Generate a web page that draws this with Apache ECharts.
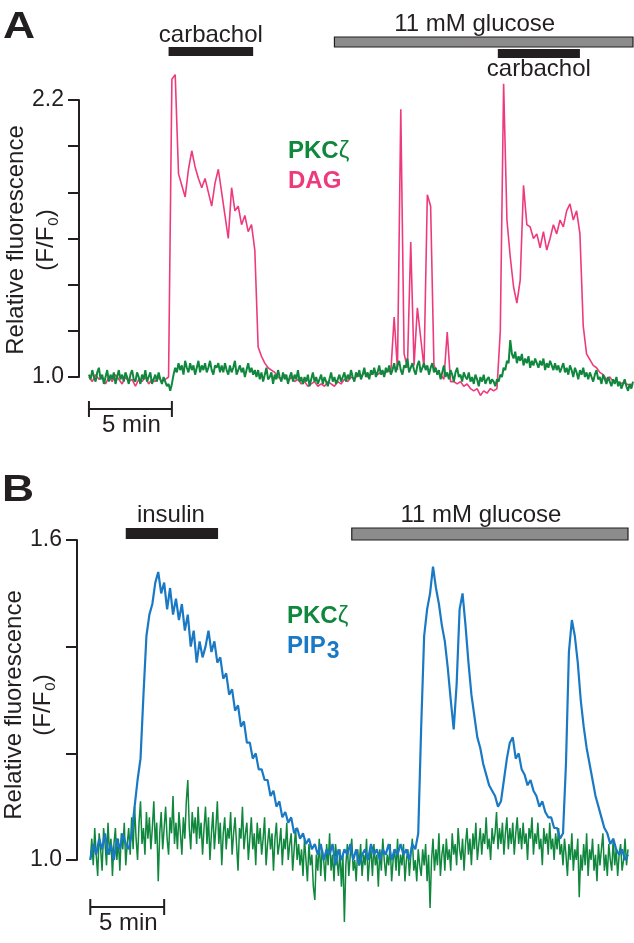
<!DOCTYPE html>
<html><head><meta charset="utf-8">
<script src="https://cdn.jsdelivr.net/npm/echarts@6/dist/echarts.min.js"></script>
<style>html,body{margin:0;padding:0;background:#fff}#c{width:634px;height:943px}</style>
</head><body><div id="c"></div>
<script>
const FONT = '"Liberation Sans", Arial, Helvetica, sans-serif';
const INK = '#231f20';
const PINK = '#ee3a7d', GREEN = '#0f873d', BLUE = '#1a79c4', GREY = '#8c8c8c';

// sampling interval (minutes per point)
const timeStepDagA = 0.2;
const timeStepPkcA = 0.1;
const timeStepPipB = 0.2;
const timeStepPkcB = 0.1;

// Panel A: DAG (pink), F/F0
const dagA = [1.00,0.98,1.01,0.99,1.00,0.97,1.00,0.98,1.01,0.99,0.97,1.00,0.98,0.99,0.96,0.99,0.98,1.00,0.97,0.99,0.98,1.00,0.98,0.99,
1.00,
2.29,2.31,1.88,1.83,1.78,1.90,1.98,1.91,1.86,1.82,1.86,1.80,1.74,1.84,1.90,1.80,1.70,1.60,1.82,1.72,1.74,1.66,1.70,1.63,1.66,1.55,1.13,1.09,1.06,1.04,1.03,1.02,
1.00,0.99,1.01,0.98,1.00,0.98,0.99,0.97,0.98,0.96,0.97,0.98,0.96,0.97,0.96,0.98,0.97,0.96,0.98,0.97,0.99,0.98,1.00,0.99,1.01,1.00,1.02,1.00,1.01,1.03,1.01,1.02,1.01,1.03,1.02,
1.26,1.03,2.16,1.10,1.04,1.585,1.05,1.30,1.17,1.04,1.79,1.74,1.05,1.02,1.01,0.99,1.195,0.98,
0.98,0.97,0.98,0.96,0.97,0.95,0.94,0.95,0.92,0.94,0.93,0.95,0.94,0.95,
1.20,2.27,1.68,1.52,1.39,1.32,1.42,1.83,1.66,1.65,1.60,1.62,1.56,1.63,1.55,1.60,1.66,1.62,1.68,1.65,1.72,1.75,1.68,1.72,1.62,1.22,1.10,1.075,1.05,1.04,1.02,1.01,0.99,1.00,0.98,0.985,0.97,0.975,0.97,0.965,0.97];

// Panel A: PKCzeta (green), F/F0
const pkcA = [1.01,0.99,1.03,1.00,0.98,1.02,1.04,0.99,1.01,0.97,
1.00,1.03,0.98,1.01,0.99,1.02,0.97,1.00,1.03,0.99,
1.01,0.98,1.02,1.00,0.97,1.01,1.03,0.99,0.98,1.02,
1.00,0.97,1.01,0.99,1.03,0.98,1.00,1.02,0.97,0.99,
1.01,0.98,1.02,0.99,0.97,1.00,0.98,0.96,0.97,
0.94,
0.97,1.01,1.04,1.02,1.06,1.03,1.05,1.01,1.07,1.04,
1.02,1.06,1.03,1.05,1.01,1.04,1.07,1.02,1.05,1.03,
1.06,1.02,1.04,1.07,1.03,1.01,1.05,1.04,1.06,1.02,
1.05,
1.02,1.06,1.03,1.01,1.05,1.02,1.04,1.07,1.01,1.03,
1.05,1.02,1.04,1.00,1.03,1.06,1.02,1.04,1.01,1.03,
1.00,1.03,0.99,1.02,0.98,1.01,1.04,0.99,1.00,1.02,
0.97,1.01,0.99,1.03,1.00,0.98,1.02,0.99,1.01,0.97,
1.00,1.02,0.98,1.01,0.99,1.03,0.98,1.00,
0.97,1.00,0.98,1.01,0.96,0.99,1.02,0.98,1.00,0.97,
0.99,1.01,0.97,1.00,0.98,0.96,0.99,1.02,0.98,1.00,
0.97,0.99,1.01,0.98,
1.00,1.02,0.98,1.01,0.99,1.03,1.00,0.98,1.02,1.00,
1.03,0.99,1.01,1.04,1.00,1.02,0.99,1.03,1.01,1.04,
1.00,1.02,1.05,1.01,1.03,1.00,1.04,1.02,1.05,1.01,
1.03,1.06,1.02,1.05,1.07,1.03,1.01,1.05,1.04,1.08,
1.02,1.04,1.06,1.03,1.01,1.05,1.07,1.02,1.04,1.06,
1.03,1.05,1.01,1.04,1.06,1.02,
1.04,1.01,1.03,0.99,1.02,1.05,1.00,1.02,0.99,1.03,
1.01,0.98,1.02,1.04,1.00,1.01,0.98,1.02,1.00,0.99,
1.02,0.98,
1.00,0.97,1.01,0.99,0.96,1.00,0.98,1.01,0.97,0.99,
1.00,0.97,0.99,0.98,0.96,0.99,
0.98,1.01,1.00,1.04,1.03,1.07,1.06,1.16,1.10,1.08,
1.11,1.06,1.09,1.07,1.10,1.05,1.08,1.06,1.09,1.04,
1.07,1.05,1.08,1.06,1.04,1.07,1.05,1.08,1.03,1.06,
1.04,1.07,1.05,1.03,
1.06,1.03,1.05,1.02,1.04,1.06,1.02,1.04,1.01,1.05,
1.03,1.00,1.04,1.02,0.99,1.03,1.01,1.04,1.00,1.02,
0.99,1.02,1.00,0.98,1.01,1.03,0.99,1.00,0.97,1.01,
0.99,0.97,1.00,0.98,0.96,0.99,0.97,1.00,0.96,0.98,
0.95,0.97,0.99,0.96,0.94,0.97,0.95,0.98];

// Panel B: PIP3 (blue), F/F0
const pip3B = [1.00,1.03,1.01,1.04,1.02,1.05,1.01,1.03,1.00,1.04,1.02,1.05,1.03,1.02,
1.05,1.10,1.15,1.19,1.31,1.42,1.46,1.48,1.52,1.54,1.50,1.52,1.47,1.51,1.46,1.49,1.45,1.48,1.43,1.46,1.40,1.43,1.37,1.41,1.38,1.40,1.43,1.39,1.41,1.37,1.38,1.34,1.35,1.31,1.32,1.28,1.29,1.25,1.26,1.22,1.22,1.19,1.20,1.17,1.17,1.15,1.15,1.12,1.13,1.10,1.11,1.08,1.09,1.07,1.08,1.05,1.06,1.04,1.05,1.03,1.04,1.02,1.03,
1.01,1.03,1.00,1.02,1.01,1.03,0.99,1.02,1.00,1.02,1.01,1.03,1.00,1.02,0.99,1.01,1.02,1.00,1.03,1.01,1.02,1.00,1.02,1.01,1.03,1.00,1.02,1.01,1.03,1.01,1.02,1.00,1.03,1.02,
1.05,1.25,1.42,1.47,1.50,1.55,1.51,1.48,1.44,1.41,1.36,1.30,1.245,1.33,1.47,1.50,1.44,1.37,1.31,1.27,1.23,1.21,1.18,1.16,1.14,1.13,1.12,1.10,1.11,1.15,1.19,1.22,1.23,1.19,1.20,1.17,1.16,1.14,1.15,1.13,1.12,1.10,1.11,1.09,1.08,1.08,1.06,1.06,1.04,1.05,1.18,1.39,1.45,1.42,1.37,1.30,1.25,1.21,1.18,1.15,1.12,1.10,1.08,1.06,1.05,1.03,1.04,1.02,1.01,1.02,1.00,1.01];

// Panel B: PKCzeta (green), F/F0
const pkcB = [1.00,1.04,0.99,1.06,1.01,0.97,1.05,1.02,0.98,1.06,
1.03,0.99,1.07,1.01,1.04,0.97,1.03,1.06,1.00,1.04,
0.98,1.05,1.02,1.07,0.99,1.03,1.06,1.01,
1.08,1.02,1.10,1.04,1.00,1.07,1.11,1.03,1.06,1.01,
1.09,1.04,1.08,1.02,1.06,1.11,1.03,1.07,0.96,1.05,
1.09,1.02,1.06,1.10,1.04,1.01,1.08,1.05,1.12,1.03,
1.07,1.02,1.09,1.05,1.01,1.08,1.04,1.11,1.15,1.06,
1.02,1.09,1.05,1.08,1.03,1.10,1.04,
1.07,1.01,1.06,1.10,1.03,1.08,1.00,1.05,1.09,1.02,
1.06,1.11,1.03,1.07,0.99,1.05,1.08,1.02,1.06,1.04,
1.09,1.01,1.05,1.08,1.03,0.98,1.06,1.04,1.10,1.02,
1.05,1.07,1.00,1.04,1.08,1.02,1.05,0.99,1.07,1.03,
1.06,1.01,1.04,1.08,0.99,1.03,1.06,1.02,1.05,0.98,
1.04,1.07,1.01,1.03,1.06,0.99,1.04,1.02,1.07,1.00,
1.03,1.05,0.98,1.02,1.06,1.00,1.03,0.99,
1.02,0.97,1.04,1.00,0.96,1.03,0.99,1.01,0.95,0.925,
1.01,0.98,1.04,0.97,1.02,1.00,0.96,1.03,0.99,1.05,
0.98,1.01,0.96,1.03,1.00,0.97,1.02,0.95,1.01,0.884,
0.99,1.03,0.97,1.01,1.04,0.98,1.00,0.96,1.02,0.99,
1.03,0.97,1.01,0.99,1.04,0.96,1.00,1.02,0.97,1.03,
0.99,1.01,0.95,1.02,0.98,1.04,1.00,0.97,1.01,0.99,
1.03,0.96,1.00,1.02,0.98,1.04,0.97,1.01,0.99,1.03,
0.96,1.00,1.02,0.97,1.01,1.04,0.98,1.00,0.96,1.02,
0.99,
0.97,1.02,0.99,1.03,0.96,1.01,0.91,1.00,1.04,0.98,
1.02,0.99,1.05,0.97,1.01,1.03,0.98,1.04,1.00,1.02,
0.98,1.05,1.01,1.03,0.99,1.06,1.02,1.00,1.04,0.98,
1.03,1.06,1.01,1.04,0.99,1.05,1.02,1.07,1.00,1.03,
1.06,1.01,1.05,1.03,1.08,1.02,1.04,1.00,1.06,1.03,
1.05,1.09,1.02,1.06,1.03,1.07,1.01,1.05,1.08,1.02,
1.06,1.03,1.07,1.01,1.05,1.08,1.03,1.06,
1.02,1.07,1.03,1.05,1.00,1.06,1.04,1.08,1.01,1.05,
1.03,1.07,1.02,1.04,0.99,1.06,1.03,1.05,1.01,1.07,
1.02,1.04,1.00,1.05,1.02,1.06,1.01,
1.03,0.99,1.04,1.01,0.97,1.03,1.00,1.05,0.98,1.02,
1.00,1.04,0.93,1.01,0.98,1.03,0.99,1.05,0.97,1.02,
1.00,1.04,0.98,1.01,0.96,1.03,0.99,1.02,1.05,0.98,
1.01,0.97,1.03,1.00,0.98,1.04,0.99,1.02,0.97,1.01,
1.03,0.98,1.00,1.04,0.99,1.02];

// labelled y ticks
const yTicksA = ['1.0', '2.2'];
const yTicksB = ['1.0', '1.6'];

// stimulus periods (minutes)
const carbacholA1 = [4.8, 9.9];
const glucoseA = [14.8, 32.8];
const carbacholA2 = [24.65, 29.6];
const insulinB = [2.4, 8.65];
const glucoseB = [17.7, 36.4];
const scaleBarMin = [0, 5];

const toXY = (arr, dt) => arr.map((v, i) => [+(i * dt).toFixed(3), v]);

const chart = echarts.init(document.getElementById('c'), null, {renderer: 'canvas'});

function yAxisDef(grid, min, max, labels) {
  return {
    gridIndex: grid, type: 'value', min: min, max: max, interval: 0.2,
    axisLine: {show: true, onZero: false, lineStyle: {color: INK, width: 2}},
    axisTick: {show: true, length: 11, lineStyle: {color: INK, width: 2}},
    splitLine: {show: false},
    axisLabel: {margin: 15, fontSize: 23, color: INK, fontFamily: FONT,
      formatter: v => labels.includes(v.toFixed(1)) ? v.toFixed(1) : ''}
  };
}

function lineSeries(xi, data, color, width, z) {
  return {type: 'line', xAxisIndex: xi, yAxisIndex: xi, data: data, symbol: 'none',
    clip: false, z: z, lineStyle: {color: color, width: width}, itemStyle: {color: color},
    animation: false, silent: true};
}

chart.setOption({
  animation: false,
  backgroundColor: '#fff',
  grid: [{left: 79, right: 1, top: 100, bottom: 566}, {left: 77, right: 6, top: 540, bottom: 83}],
  xAxis: [
    {gridIndex: 0, type: 'value', min: -0.6, max: 32.8, show: false},
    {gridIndex: 1, type: 'value', min: -0.9, max: 36.4, show: false}
  ],
  yAxis: [yAxisDef(0, 1.0, 2.2, yTicksA), yAxisDef(1, 1.0, 1.6, yTicksB)],
  series: [
    lineSeries(0, toXY(dagA, timeStepDagA), PINK, 1.6, 2),
    lineSeries(0, toXY(pkcA, timeStepPkcA), GREEN, 2, 3),
    lineSeries(1, toXY(pkcB, timeStepPkcB), GREEN, 1.5, 2),
    lineSeries(1, toXY(pip3B, timeStepPipB), BLUE, 2.2, 3)
  ]
});

const px = (ax, t) => chart.convertToPixel({xAxisIndex: ax}, t);

function text(x, y, str, opt) {
  opt = opt || {};
  return {type: 'text', x: x, y: y, rotation: opt.rotation || 0, scaleX: opt.scaleX || 1, silent: true, z: 10,
    style: Object.assign({text: str, fill: INK, font: '24px ' + FONT,
      align: opt.align || 'center', verticalAlign: 'middle',
      textAlign: opt.align || 'center', textVerticalAlign: 'middle'}, opt.style || {})};
}
function bar(ax, range, y, h, fill, stroke) {
  const x1 = px(ax, range[0]), x2 = px(ax, range[1]);
  return {type: 'rect', silent: true, z: 10, shape: {x: x1, y: y, width: x2 - x1, height: h},
    style: {fill: fill, stroke: stroke || null, lineWidth: stroke ? 1.2 : 0}};
}
function scaleBar(ax, y) {
  const x1 = px(ax, scaleBarMin[0]), x2 = px(ax, scaleBarMin[1]);
  const st = {stroke: INK, lineWidth: 2};
  return [
    {type: 'line', silent: true, shape: {x1: x1, y1: y, x2: x2, y2: y}, style: st},
    {type: 'line', silent: true, shape: {x1: x1, y1: y - 8, x2: x1, y2: y + 8}, style: st},
    {type: 'line', silent: true, shape: {x1: x2, y1: y - 8, x2: x2, y2: y + 8}, style: st},
    text((x1 + x2) / 2 + 1, y + 16, '5 min')
  ];
}
const mid = (ax, r) => (px(ax, r[0]) + px(ax, r[1])) / 2;

const legendRich = (color, second, secondStyle) => ({
  b: {fontFamily: FONT, fontSize: 24, fontWeight: 'bold', fill: color, color: color, verticalAlign: 'top', lineHeight: 26},
  z: Object.assign({fontFamily: FONT, fontSize: 24, fill: color, color: color, verticalAlign: 'top', lineHeight: 26}, secondStyle || {})
});

const yTitle = (x1, x2, y) => [
  text(x1, y, 'Relative fluorescence', {rotation: Math.PI / 2}),
  {type: 'text', x: x2, y: y, rotation: Math.PI / 2, silent: true, z: 10,
    style: {text: '{m|(F/F}{s|0}{m|)}', align: 'center', verticalAlign: 'middle', textAlign: 'center', textVerticalAlign: 'middle',
      fill: INK,
      rich: {
        m: {fontFamily: FONT, fontSize: 24, fill: INK, color: INK, verticalAlign: 'top', lineHeight: 26},
        s: {fontFamily: FONT, fontSize: 15, fill: INK, color: INK, verticalAlign: 'top', lineHeight: 16, padding: [12, 0, 0, 1]}
      }}}
];

const graphics = [].concat(
  // Panel A
  [text(19, 28, 'A', {scaleX: 1.2, style: {font: 'bold 37px ' + FONT}})],
  [bar(0, carbacholA1, 47, 9, INK), text(mid(0, carbacholA1), 35, 'carbachol')],
  [bar(0, glucoseA, 37, 10, GREY, INK), text(mid(0, glucoseA) - 9, 24, '11 mM glucose')],
  [bar(0, carbacholA2, 49, 9, INK), text(mid(0, carbacholA2), 69, 'carbachol')],
  scaleBar(0, 409),
  yTitle(16, 47, 240),
  [{type: 'text', x: 288, y: 139, silent: true, z: 10,
     style: {text: '{b|PKC}{z|ζ}', align: 'left', verticalAlign: 'top', textAlign: 'left', textVerticalAlign: 'top', rich: legendRich(GREEN)}},
   {type: 'text', x: 288, y: 169, silent: true, z: 10,
     style: {text: '{b|DAG}', align: 'left', verticalAlign: 'top', textAlign: 'left', textVerticalAlign: 'top', rich: legendRich(PINK)}}],
  // Panel B
  [text(18, 491, 'B', {scaleX: 1.2, style: {font: 'bold 37px ' + FONT}})],
  [bar(1, insulinB, 528, 11, INK), text(mid(1, insulinB) - 1, 515, 'insulin')],
  [bar(1, glucoseB, 528, 12, GREY, INK), text(mid(1, glucoseB) - 9, 515, '11 mM glucose')],
  scaleBar(1, 907),
  yTitle(14, 44, 705),
  [{type: 'text', x: 287, y: 604, silent: true, z: 10,
     style: {text: '{b|PKC}{z|ζ}', align: 'left', verticalAlign: 'top', textAlign: 'left', textVerticalAlign: 'top', rich: legendRich(GREEN)}},
   {type: 'text', x: 287, y: 634, silent: true, z: 10,
     style: {text: '{b|PIP}{z|3}', align: 'left', verticalAlign: 'top', textAlign: 'left', textVerticalAlign: 'top',
       rich: legendRich(BLUE, null, {fontWeight: 'bold', fontSize: 23, padding: [6, 0, 0, 1]})}}]
);

chart.setOption({graphic: graphics});
</script>
</body></html>
